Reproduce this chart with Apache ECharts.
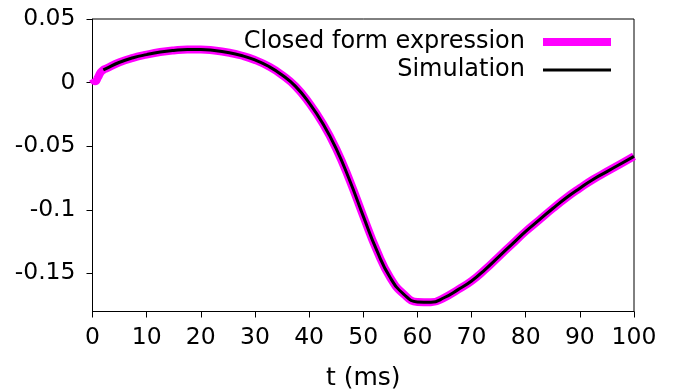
<!DOCTYPE html>
<html><head><meta charset="utf-8">
<script src="https://cdn.jsdelivr.net/npm/echarts@6/dist/echarts.min.js"></script>
<style>html,body{margin:0;padding:0;background:#fff}#c{width:674px;height:390px}</style>
</head><body><div id="c"></div>
<script>
const tValues    = [0, 0.5, 1, 1.5, 2, 2.5, 5, 7.5, 10, 12.5, 15, 17.5, 20, 22.5, 25, 27.5, 30, 32.5, 35, 37.5, 40, 42.5, 45, 47.5, 50, 52.5, 55, 57.5, 60, 62.5, 65, 67.5, 70, 72.5, 75, 77.5, 80, 82.5, 85, 87.5, 90, 92.5, 95, 97.5, 100];
const closedForm = [0.003, 0.001, 0.004, 0.008, 0.010, 0.011, 0.016, 0.0195, 0.022, 0.024, 0.0253, 0.026, 0.026, 0.0252, 0.0237, 0.0213, 0.0178, 0.0128, 0.0060, -0.0030, -0.0160, -0.0320, -0.0520, -0.0770, -0.1050, -0.1320, -0.1535, -0.1665, -0.1725, -0.1728, -0.1690, -0.1628, -0.1560, -0.1470, -0.1370, -0.1270, -0.1170, -0.1080, -0.0990, -0.0905, -0.0830, -0.0760, -0.0700, -0.0640, -0.0580];
const simulation = [null, null, null, null, 0.010, 0.011, 0.016, 0.0195, 0.022, 0.024, 0.0253, 0.026, 0.026, 0.0252, 0.0237, 0.0213, 0.0178, 0.0128, 0.0060, -0.0030, -0.0160, -0.0320, -0.0520, -0.0770, -0.1050, -0.1320, -0.1535, -0.1665, -0.1725, -0.1728, -0.1690, -0.1628, -0.1560, -0.1470, -0.1370, -0.1270, -0.1170, -0.1080, -0.0990, -0.0905, -0.0830, -0.0760, -0.0700, -0.0640, -0.0580];
const yTicks = [0.05, 0, -0.05, -0.1, -0.15];
const seriesNames = ['Closed form expression', 'Simulation'];
const xLabel = 't (ms)';

const font = 'DejaVu Sans';
const chart = echarts.init(document.getElementById('c'), null, {renderer: 'canvas'});
const pair = arr => tValues.map((t, i) => arr[i] === null ? null : [t, arr[i]]).filter(p => p);
// legend keys: a bar inside a 68x14 box (tiny corner marks fix the box size)
const corners = 'M0,0 L0.01,0 L0,0.01 Z M68,14 L67.99,14 L68,13.99 Z ';
const thickKey = 'path://' + corners + 'M0,3 L68,3 L68,11 L0,11 Z';
const thinKey  = 'path://' + corners + 'M0,5.5 L68,5.5 L68,8.5 L0,8.5 Z';
chart.setOption({
  animation: false,
  backgroundColor: '#fff',
  textStyle: {fontFamily: font},
  grid: {left: 92.5, right: 40, top: 19, bottom: 78.5, show: true, borderColor: '#000', borderWidth: 1,
         containLabel: false, outerBoundsMode: 'none'},
  legend: {
    orient: 'vertical', align: 'right', right: 63, top: 30, itemGap: 4,
    itemWidth: 68, itemHeight: 14, padding: 0,
    textStyle: {fontFamily: font, fontSize: 24, color: '#000', padding: [0, 13, 0, 0]},
    data: [
      {name: seriesNames[0], icon: thickKey, itemStyle: {color: '#ff00ff', borderWidth: 0}},
      {name: seriesNames[1], icon: thinKey, itemStyle: {color: '#000', borderWidth: 0}}
    ]
  },
  xAxis: {
    type: 'value', min: 0, max: 100, interval: 10,
    name: xLabel, nameLocation: 'middle', nameGap: 54,
    nameTextStyle: {fontFamily: font, fontSize: 25, color: '#000'},
    axisLine: {show: true, onZero: false, lineStyle: {color: '#000', width: 1}},
    axisTick: {show: true, length: 6, inside: false, lineStyle: {color: '#000'}},
    axisLabel: {fontFamily: font, fontSize: 23.5, color: '#000', margin: 14},
    splitLine: {show: false}
  },
  yAxis: {
    type: 'value', min: -0.18, max: 0.05,
    axisLine: {show: true, onZero: false, lineStyle: {color: '#000', width: 1}},
    axisTick: {show: true, length: 6, inside: false, lineStyle: {color: '#000'}, customValues: yTicks},
    axisLabel: {fontFamily: font, fontSize: 23.5, color: '#000', margin: 17, customValues: yTicks,
      formatter: v => String(Math.round(v * 1000) / 1000)},
    splitLine: {show: false}
  },
  series: [
    {name: seriesNames[0], type: 'line', data: pair(closedForm), smooth: 0.5, showSymbol: false, symbol: 'none',
     lineStyle: {color: '#ff00ff', width: 8}, itemStyle: {color: '#ff00ff'}, z: 2},
    {name: seriesNames[1], type: 'line', data: pair(simulation), smooth: 0.5, showSymbol: false, symbol: 'none',
     lineStyle: {color: '#000', width: 3}, itemStyle: {color: '#000'}, z: 3}
  ]
});
</script></body></html>
